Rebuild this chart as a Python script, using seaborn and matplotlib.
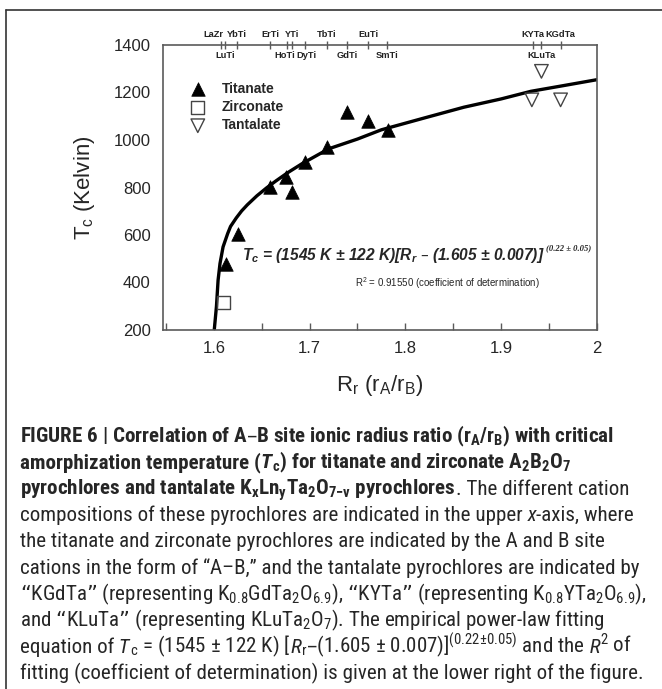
import seaborn as sns
import matplotlib.pyplot as plt
import matplotlib.font_manager as fm
import matplotlib.transforms as mtrans
from matplotlib.lines import Line2D
from matplotlib.ticker import MultipleLocator

# valores
titanate_rr = [1.613, 1.625, 1.659, 1.675, 1.682, 1.695, 1.718, 1.739, 1.761, 1.782]
titanate_tc = [477, 606, 802, 844, 781, 907, 970, 1117, 1079, 1040]
zirconate_rr = [1.610]
zirconate_tc = [315]
tantalate_rr = [1.932, 1.942, 1.962]
tantalate_tc = [1169, 1289, 1169]

curve_rr = [1.6005, 1.6028, 1.6045, 1.6065, 1.6097, 1.6145, 1.6175, 1.6235, 1.629, 1.635,
            1.645, 1.655, 1.665, 1.677, 1.692, 1.720, 1.750, 1.775, 1.820, 1.861, 1.900,
            1.931, 1.965, 2.0]
curve_tc = [200, 300, 410, 480, 550, 606, 636, 672, 701, 727,
            765, 798, 828, 862, 900, 963, 1004, 1043, 1093, 1138, 1173,
            1205, 1229, 1254]

# eje superior: composiciones
comp_rr = [1.608, 1.612, 1.624, 1.659, 1.676, 1.682, 1.695, 1.718, 1.739, 1.761,
           1.781, 1.933, 1.942, 1.962]
comp_names = ['LaZr', 'LuTi', 'YbTi', 'ErTi', 'HoTi', 'YTi', 'DyTi', 'TbTi', 'GdTi', 'EuTi',
              'SmTi', 'KYTa', 'KLuTa', 'KGdTa']
comp_side = ['up', 'down', 'up', 'up', 'down', 'up', 'down', 'up', 'down', 'up',
             'down', 'up', 'down', 'up']

x_ticks = [1.6, 1.7, 1.8, 1.9, 2.0]
x_ticklabels = ['1.6', '1.7', '1.8', '1.9', '2']
y_ticks = [200, 400, 600, 800, 1000, 1200, 1400]

sns.set_style('ticks')
plt.rcParams['font.family'] = ['Liberation Sans', 'DejaVu Sans']

names = {f.name for f in fm.fontManager.ttflist}
cap_font = 'Liberation Sans'
for cand in ['Liberation Sans Narrow', 'Roboto Condensed', 'Open Sans Condensed']:
    if cand in names:
        cap_font = cand
        break

W, H = 662, 689
fig = plt.figure(figsize=(W / 100, H / 100), dpi=100)
ax = fig.add_axes([163 / W, 1 - 330 / H, 434 / W, 285 / H])

spine_c = '#5a5a5a'

sns.lineplot(x=curve_rr, y=curve_tc, sort=False, estimator=None, color='black',
             linewidth=2.4, ax=ax)
sns.scatterplot(x=titanate_rr, y=titanate_tc, marker='^', s=95, color='black',
                edgecolor='black', linewidth=0.5, ax=ax, label='Titanate', zorder=3)
sns.scatterplot(x=zirconate_rr, y=zirconate_tc, marker='s', s=85, facecolors='none',
                edgecolor='#444444', linewidth=1.0, ax=ax, label='Zirconate', zorder=3)
sns.scatterplot(x=tantalate_rr, y=tantalate_tc, marker='v', s=95, facecolors='none',
                edgecolor='#444444', linewidth=1.0, ax=ax, label='Tantalate', zorder=3)

ax.set_xlim(1.547, 2.0)
ax.set_ylim(200, 1400)
ax.set_xticks(x_ticks)
ax.set_xticklabels(x_ticklabels)
ax.xaxis.set_minor_locator(MultipleLocator(0.05))
ax.set_yticks(y_ticks)
ax.tick_params(axis='x', which='both', direction='in', length=5, width=1, color=spine_c,
               labelsize=12, pad=8, top=False)
ax.tick_params(axis='y', length=0, labelsize=12, pad=9)
for s in ax.spines.values():
    s.set_color(spine_c)
    s.set_linewidth(1.2)

ax.set_xlabel(r'R$\mathregular{_r}$ (r$\mathregular{_A}$/r$\mathregular{_B}$)', fontsize=16, labelpad=12)
ax.set_ylabel(r'T$\mathregular{_c}$ (Kelvin)', fontsize=16, labelpad=12)

# eje superior con las composiciones
top = ax.secondary_xaxis('top')
top.set_xticks(comp_rr)
top.set_xticklabels([])
top.tick_params(direction='inout', length=6, width=1, color=spine_c)
top.spines['top'].set_visible(False)
for rr, name, side in zip(comp_rr, comp_names, comp_side):
    up = side == 'up'
    tr = mtrans.offset_copy(ax.get_xaxis_transform(), fig=fig, y=4.5 if up else -4.5, units='points')
    ha = 'center'
    dx = 0
    if name == 'LaZr':
        ha, dx = 'right', 0.0022
    elif name == 'HoTi':
        dx = -0.002
    elif name == 'DyTi':
        dx = 0.0015
    ax.text(rr + dx, 1.0, name, transform=tr, ha=ha, va='bottom' if up else 'top',
            fontsize=6.7, fontweight='bold', color='#222222')

leg = ax.legend(loc='upper left', bbox_to_anchor=(0.061, 0.87), frameon=False, borderpad=0,
                borderaxespad=0, handlelength=1.2, handletextpad=1.1, labelspacing=0.3,
                prop={'weight': 'bold', 'size': 10})

eq = ax.text(1.6295, 515, r'T$\mathregular{_c}$ = (1545 K ± 122 K)[R$\mathregular{_r}$ – (1.605 ± 0.007)]',
             fontsize=11.2, fontweight='bold', style='italic', va='center', ha='left')
ax.annotate('(0.22 ± 0.05)', xy=(1.003, 1.08), xycoords=eq, va='top', ha='left',
            fontsize=6.2, fontweight='bold', style='italic', family='Liberation Serif')
ax.text(1.844, 397, r'R$\mathregular{^2}$ = 0.91550 (coefficient of determination)',
        fontsize=7, ha='center', va='center')

# marco de la pagina
fig.add_artist(Line2D([6 / W, 1], [1 - 10 / H, 1 - 10 / H], color='#333333', lw=1.2))
fig.add_artist(Line2D([6 / W, 6 / W], [0, 1 - 10 / H], color='#333333', lw=1.2))

# pie de figura
B, R, I, BI = ('bold', 'normal'), ('normal', 'normal'), ('normal', 'italic'), ('bold', 'italic')
caption = [
    [(r'FIGURE 6 | Correlation of A–B site ionic radius ratio (r$\mathregular{_A}$/r$\mathregular{_B}$) with critical', B)],
    [('amorphization temperature (', B), ('T', BI),
     (r'$\mathregular{_c}$) for titanate and zirconate A$\mathregular{_2}$B$\mathregular{_2}$O$\mathregular{_7}$', B)],
    [(r'pyrochlores and tantalate K$\mathregular{_x}$Ln$\mathregular{_y}$Ta$\mathregular{_2}$O$\mathregular{_{7{-}v}}$ pyrochlores', B),
     ('. The different cation', R)],
    [('compositions of these pyrochlores are indicated in the upper', R), (' x', I), ('-axis, where', R)],
    [('the titanate and zirconate pyrochlores are indicated by the A and B site', R)],
    [('cations in the form of “A–B,” and the tantalate pyrochlores are indicated by', R)],
    [(r'“KGdTa” (representing K$\mathregular{_{0.8}}$GdTa$\mathregular{_2}$O$\mathregular{_{6.9}}$), '
      r'“KYTa” (representing K$\mathregular{_{0.8}}$YTa$\mathregular{_2}$O$\mathregular{_{6.9}}$),', R)],
    [(r'and “KLuTa” (representing KLuTa$\mathregular{_2}$O$\mathregular{_7}$). The empirical power-law fitting', R)],
    [('equation of', R), (' T', I), (r'$\mathregular{_c}$ = (1545 ± 122 K) [', R), ('R', I),
     (r'$\mathregular{_r}$–(1.605 ± 0.007)]$\mathregular{^{(0.22±0.05)}}$ and the', R), (' R', I),
     (r'$\mathregular{^2}$ of', R)],
    [('fitting (coefficient of determination) is given at the lower right of the figure.', R)],
]

renderer = fig.canvas.get_renderer()


def draw_line(parts, y_px, size):
    x = 20.0
    arts = []
    for txt, (weight, style) in parts:
        t = fig.text(x / W, 1 - y_px / H, txt, fontsize=size, fontweight=weight, style=style,
                     family=cap_font, ha='left', va='baseline')
        x = t.get_window_extent(renderer).x1
        arts.append(t)
    return x, arts


# un solo tamaño: la linea mas larga debe caber en el ancho del original
widest = 0
for parts in caption:
    end, arts = draw_line(parts, 442, 14)
    widest = max(widest, end - 20)
    for a in arts:
        a.remove()
cap_size = 14 * 627 / widest

for i, parts in enumerate(caption):
    draw_line(parts, 442 + 26.35 * i, cap_size)

fig.savefig('out.png', dpi=100)
